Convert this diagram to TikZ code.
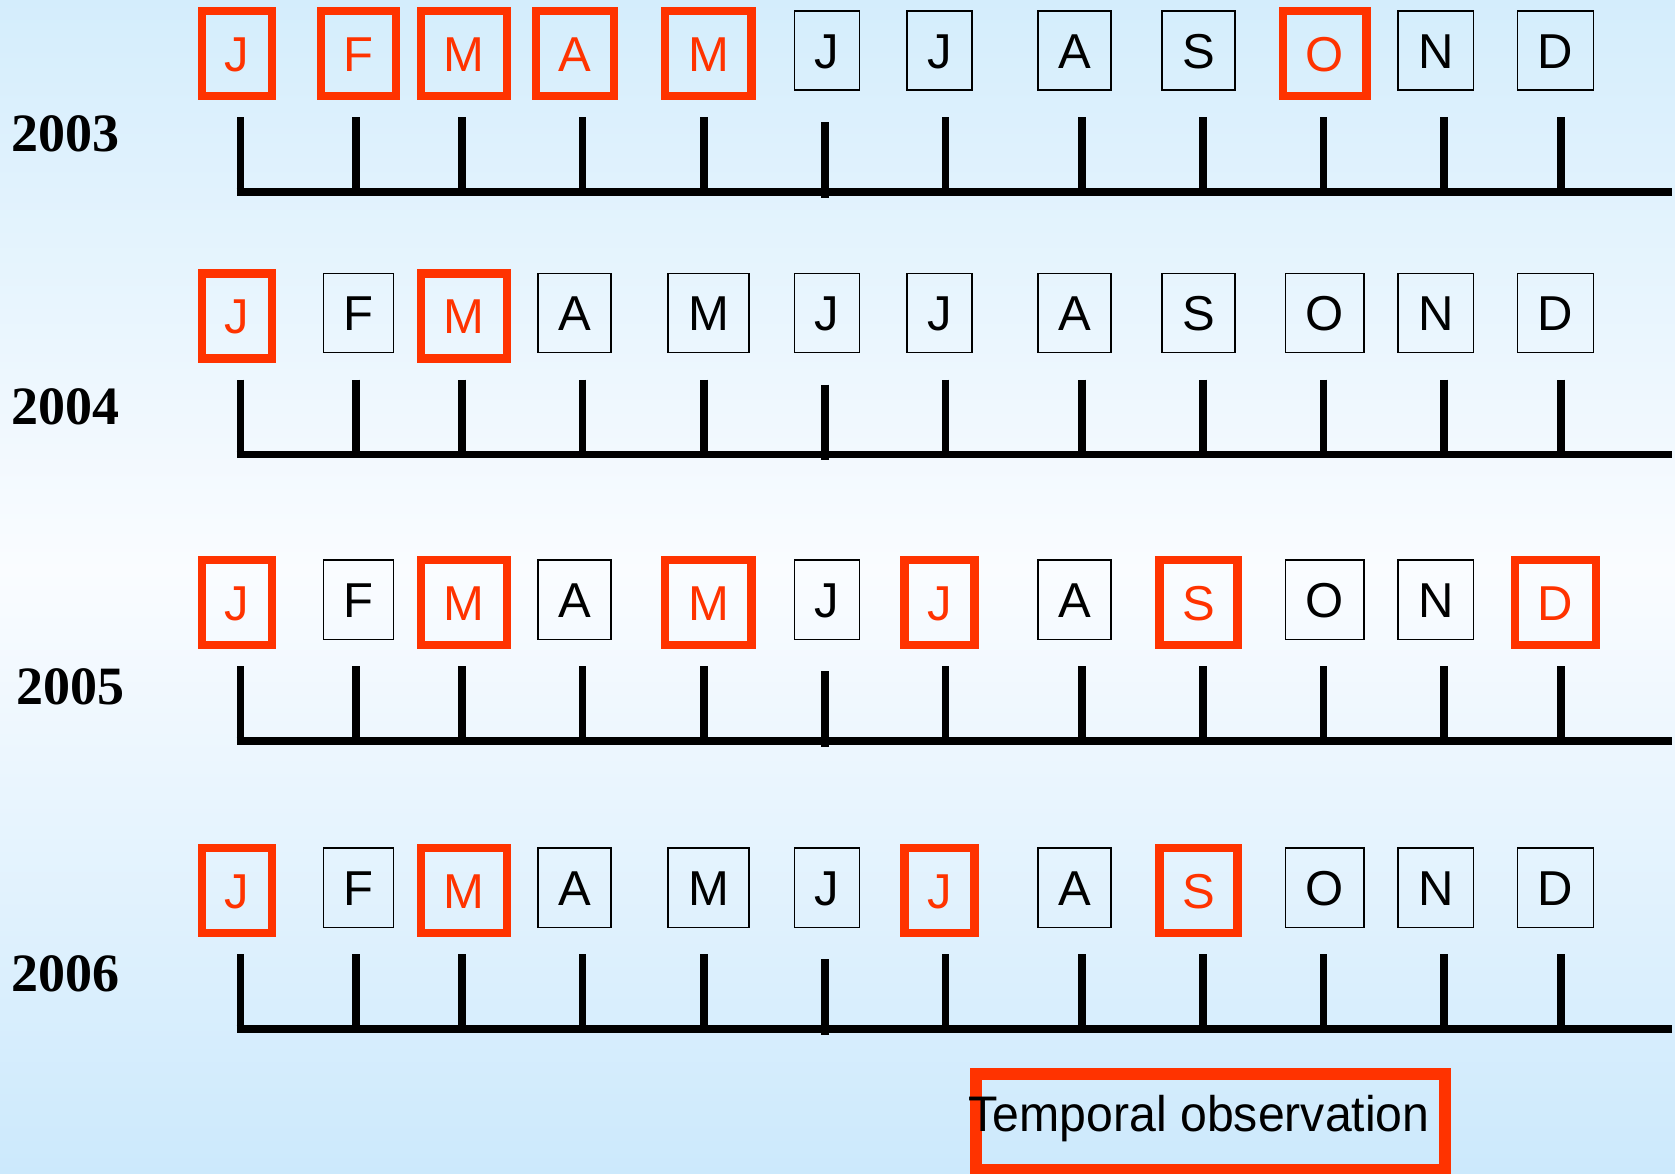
\documentclass[tikz,border=0pt]{standalone}
\usepackage{fontspec}
\newfontfamily\arialf{Liberation Sans}
\newfontfamily\timesf{Liberation Serif}
\definecolor{obsred}{HTML}{FF3300}
\definecolor{bgtop}{HTML}{D4EDFC}
\definecolor{bgmid}{HTML}{FAFCFF}
\definecolor{bgbot}{HTML}{CCE9FC}
\tikzset{
  mbox/.style={draw=black, line width=1.5pt, inner xsep=20.15pt, inner ysep=0pt,
    minimum height=79.2pt, text height=35.1pt, text depth=0pt,
    font=\arialf\fontsize{49}{49}\selectfont},
  rbox/.style={mbox, draw=obsred, text=obsred, line width=8.3pt, inner xsep=22.7pt,
    minimum height=85pt, yshift=-3pt},
  yearlbl/.style={inner sep=0pt, font=\timesf\bfseries\fontsize{54}{54}\selectfont},
  axisline/.style={line width=7.5pt, black},
  tickline/.style={line width=7.5pt, black},
}
\newcommand\monthrow[3]{%
  \foreach \m/\x/\s [count=\i] in {#3}{\node[\s] (m#1-\i) at (\x,#2) {\m};}}
\newcommand\timeline[2]{%
  \draw[axisline] (236.5,#2) -- (1671.7,#2);
  \foreach \tx [count=\k] in {240.3,355.9,461.8,582.5,704,945.4,1082.1,1202.8,1323.5,1444.2,1560.8}
    {\draw[tickline] (\tx,#2-75) coordinate (t#1-\k) -- (\tx,#2);}
  \draw[tickline] (825,#2-70) -- (825,#2+5.5);}
\begin{document}
\begin{tikzpicture}[x=1pt,y=-1pt]
\useasboundingbox (0,0) rectangle (1675,1173);
\shade[top color=bgtop, bottom color=bgmid] (0,0) rectangle (1675,571);
\shade[top color=bgmid, bottom color=bgbot] (0,570) rectangle (1675,1173);

% 2003
\node[yearlbl] (y2003) at (65.3,134) {2003};
\monthrow{2003}{50.5}{J/237.1/rbox, F/358.4/rbox, M/464.2/rbox, A/574.7/rbox, M/708.4/rbox, J/826.9/mbox, J/939.5/mbox, A/1074.6/mbox, S/1198.5/mbox, O/1324.6/rbox, N/1435.7/mbox, D/1555.4/mbox}
\timeline{2003}{192}

% 2004
\node[yearlbl] (y2004) at (65.2,407) {2004};
\monthrow{2004}{313}{J/237.1/rbox, F/358.4/mbox, M/464.2/rbox, A/574.7/mbox, M/708.4/mbox, J/826.9/mbox, J/939.5/mbox, A/1074.6/mbox, S/1198.5/mbox, O/1324.6/mbox, N/1435.7/mbox, D/1555.4/mbox}
\timeline{2004}{454.5}

% 2005
\node[yearlbl] (y2005) at (70.5,687) {2005};
\monthrow{2005}{599.7}{J/237.1/rbox, F/358.4/mbox, M/464.2/rbox, A/574.7/mbox, M/708.4/rbox, J/826.9/mbox, J/939.5/rbox, A/1074.6/mbox, S/1198.5/rbox, O/1324.6/mbox, N/1435.7/mbox, D/1555.4/rbox}
\timeline{2005}{741.2}

% 2006
\node[yearlbl] (y2006) at (65.2,974) {2006};
\monthrow{2006}{887.7}{J/237.1/rbox, F/358.4/mbox, M/464.2/rbox, A/574.7/mbox, M/708.4/mbox, J/826.9/mbox, J/939.5/rbox, A/1074.6/mbox, S/1198.5/rbox, O/1324.6/mbox, N/1435.7/mbox, D/1555.4/mbox}
\timeline{2006}{1029.2}

% legend
\node[draw=obsred, line width=11.7pt, minimum width=469.3pt, minimum height=95.7pt, inner sep=0pt] (legbox) at (1210.5,1122) {};
\node[anchor=base, inner sep=0pt, font=\arialf\fontsize{50}{50}\selectfont] (legtext) at (1199.2,1131) {\scalebox{0.964}[1]{Temporal observation}};
\end{tikzpicture}
\end{document}
